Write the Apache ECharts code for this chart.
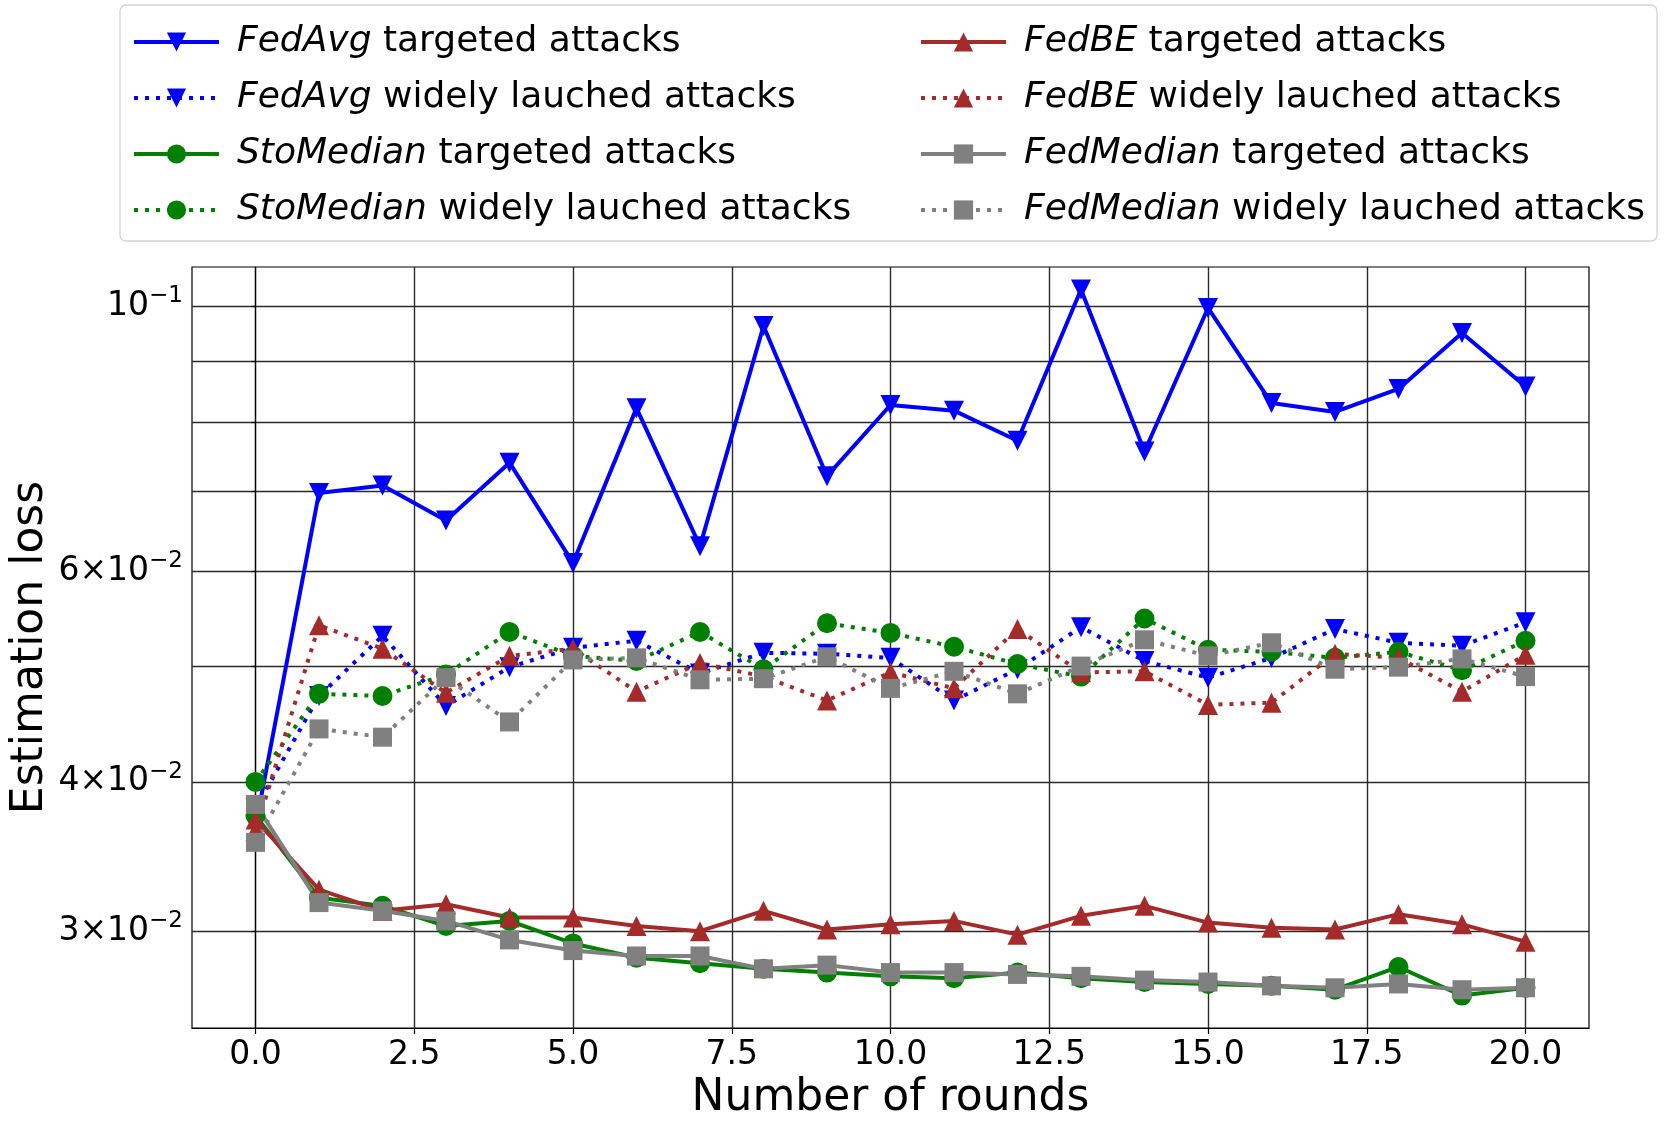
<!DOCTYPE html>
<html>
<head>
<meta charset="utf-8">
<script src="https://cdn.jsdelivr.net/npm/echarts@6.0.0/dist/echarts.min.js"></script>
<style>
  html, body { margin: 0; padding: 0; background: #fff; }
  #chart { width: 1664px; height: 1125px; }
</style>
</head>
<body>
<div id="chart"></div>
<script>
// rounds on the x axis
const rounds = [0, 1, 2, 3, 4, 5, 6, 7, 8, 9, 10, 11, 12, 13, 14, 15, 16, 17, 18, 19, 20];

// estimation loss per round
const fedAvgTargeted = [0.0367, 0.0698, 0.0708, 0.0662, 0.0740, 0.0610, 0.0822, 0.0630, 0.0963, 0.0721, 0.0827,
  0.0818, 0.0772, 0.1033, 0.0756, 0.0997, 0.0830, 0.0816, 0.0853, 0.0950, 0.0857];
const fedAvgWidely = [0.0380, 0.0472, 0.0530, 0.0463, 0.0499, 0.0518, 0.0525, 0.0493, 0.0513, 0.0512, 0.0508,
  0.0468, 0.0497, 0.0539, 0.0505, 0.0489, 0.0508, 0.0537, 0.0523, 0.0520, 0.0544];
const stoMedianTargeted = [0.0375, 0.0320, 0.0315, 0.0303, 0.0306, 0.0293, 0.0285, 0.0282, 0.0279, 0.0277, 0.0275,
  0.0274, 0.0277, 0.0274, 0.0272, 0.0271, 0.0270, 0.0268, 0.0280, 0.0265, 0.0269];
const stoMedianWidely = [0.0400, 0.0474, 0.0472, 0.0492, 0.0534, 0.0510, 0.0505, 0.0534, 0.0497, 0.0543, 0.0533,
  0.0519, 0.0502, 0.0490, 0.0548, 0.0516, 0.0514, 0.0508, 0.0514, 0.0496, 0.0525];
const fedBeTargeted = [0.0372, 0.0325, 0.0312, 0.0316, 0.0308, 0.0308, 0.0303, 0.0300, 0.0312, 0.0301, 0.0304,
  0.0306, 0.0298, 0.0309, 0.0315, 0.0305, 0.0302, 0.0301, 0.0310, 0.0304, 0.0294];
const fedBeWidely = [0.0364, 0.0541, 0.0517, 0.0475, 0.0510, 0.0517, 0.0476, 0.0503, 0.0490, 0.0468, 0.0494,
  0.0479, 0.0537, 0.0494, 0.0495, 0.0464, 0.0466, 0.0512, 0.0508, 0.0476, 0.0511];
const fedMedianTargeted = [0.0383, 0.0317, 0.0312, 0.0306, 0.0295, 0.0289, 0.0286, 0.0286, 0.0279, 0.0281, 0.0277,
  0.0277, 0.0276, 0.0275, 0.0273, 0.0272, 0.0270, 0.0269, 0.0271, 0.0268, 0.0269];
const fedMedianWidely = [0.0356, 0.0443, 0.0436, 0.0489, 0.0449, 0.0506, 0.0508, 0.0487, 0.0488, 0.0509, 0.0479,
  0.0495, 0.0474, 0.0500, 0.0526, 0.0510, 0.0523, 0.0497, 0.0499, 0.0507, 0.0490];

// ticks
const xTicks = [0, 2.5, 5, 7.5, 10, 12.5, 15, 17.5, 20];
const yGridTicks = [0.03, 0.04, 0.05, 0.06, 0.07, 0.08, 0.09, 0.1];
const yLabelTicks = [0.03, 0.04, 0.06, 0.1];

const FONT = 'DejaVu Sans';
const chart = echarts.init(document.getElementById('chart'));

const makeSeries = (name, values, color, symbol, dotted, rotate) => ({
  name,
  type: 'line',
  data: rounds.map((r, i) => [r, values[i]]),
  symbol,
  symbolSize: symbol === 'rect' ? 19 : 20,
  symbolRotate: rotate || 0,
  showAllSymbol: true,
  clip: false,
  lineStyle: { color, width: 4, type: dotted ? [4, 7] : 'solid', cap: 'butt' },
  itemStyle: { color },
  emphasis: { disabled: true },
});

const legendText = (name) => {
  const k = name.indexOf(' ');
  return '{it|' + name.slice(0, k) + '}' + name.slice(k);
};

const legendBase = {
  orient: 'vertical',
  itemWidth: 85,
  itemHeight: 24,
  itemGap: 16,
  padding: 0,
  selectedMode: false,
  formatter: legendText,
  lineStyle: { width: 4 },
  textStyle: {
    fontFamily: FONT, fontSize: 36, color: '#000', lineHeight: 40, padding: [0, 0, 0, 13],
    rich: { it: { fontFamily: FONT, fontSize: 36, fontStyle: 'italic', color: '#000', lineHeight: 40 } },
  },
};

// mathtext-like tick labels: "6×10" plus a raised exponent
const yLabel = (v) => {
  const m = Math.round(v * 100);
  if (m === 10) return '{b|10}{s|\u22121}';
  return '{b|' + m + '\u00d710}{s|\u22122}';
};

const option = {
  backgroundColor: '#fff',
  animation: false,
  textStyle: { fontFamily: FONT },
  graphic: [{
    type: 'rect', z: -10, silent: true,
    shape: { x: 120, y: 5, width: 1537, height: 236, r: 6 },
    style: { fill: '#fff', stroke: '#d4d4d4', lineWidth: 1.3 },
  }],
  legend: [
    Object.assign({}, legendBase, {
      left: 132, top: 22,
      data: ['FedAvg targeted attacks', 'FedAvg widely lauched attacks',
        'StoMedian targeted attacks', 'StoMedian widely lauched attacks'],
    }),
    Object.assign({}, legendBase, {
      left: 919, top: 22,
      data: ['FedBE targeted attacks', 'FedBE widely lauched attacks',
        'FedMedian targeted attacks', 'FedMedian widely lauched attacks'],
    }),
  ],
  grid: {
    left: 192, top: 267, right: 75, bottom: 97,
    outerBoundsMode: 'none', containLabel: false,
    show: true, borderColor: '#000', borderWidth: 1.2,
  },
  xAxis: {
    type: 'value', min: -1, max: 21,
    name: 'Number of rounds', nameLocation: 'middle', nameGap: 38,
    nameTextStyle: { fontFamily: FONT, fontSize: 44, color: '#000' },
    axisLine: { show: true, lineStyle: { color: '#000', width: 1.2 } },
    axisTick: { show: true, customValues: xTicks, length: 6, lineStyle: { color: '#000', width: 1.2 } },
    axisLabel: {
      customValues: xTicks, margin: 11, fontFamily: FONT, fontSize: 33, color: '#000',
      formatter: (v) => v.toFixed(1),
    },
    splitLine: { show: true, lineStyle: { color: '#2b2b2b', width: 1.4 } },
  },
  yAxis: {
    type: 'log', logBase: 10, min: 0.024894, max: 0.10789,
    name: 'Estimation loss', nameLocation: 'middle', nameGap: 139, nameRotate: 90,
    nameMoveOverlap: false,
    nameTextStyle: { fontFamily: FONT, fontSize: 44, color: '#000' },
    axisLine: { show: true, lineStyle: { color: '#000', width: 1.2 } },
    axisTick: { show: true, customValues: yGridTicks, length: 4, lineStyle: { color: '#000', width: 1.2 } },
    axisLabel: {
      customValues: yLabelTicks, margin: 9, color: '#000',
      formatter: yLabel,
      rich: {
        b: { fontFamily: FONT, fontSize: 33, color: '#000' },
        s: { fontFamily: FONT, fontSize: 23, color: '#000', padding: [0, 0, 20, 0] },
      },
    },
    splitLine: { show: true, lineStyle: { color: '#2b2b2b', width: 1.4 } },
    minorTick: { show: false },
    minorSplitLine: { show: false },
  },
  series: [
    makeSeries('FedAvg targeted attacks', fedAvgTargeted, '#0000ff', 'triangle', false, 180),
    makeSeries('FedAvg widely lauched attacks', fedAvgWidely, '#0000ff', 'triangle', true, 180),
    makeSeries('StoMedian targeted attacks', stoMedianTargeted, '#008000', 'circle', false),
    makeSeries('StoMedian widely lauched attacks', stoMedianWidely, '#008000', 'circle', true),
    makeSeries('FedBE targeted attacks', fedBeTargeted, '#a52a2a', 'triangle', false),
    makeSeries('FedBE widely lauched attacks', fedBeWidely, '#a52a2a', 'triangle', true),
    makeSeries('FedMedian targeted attacks', fedMedianTargeted, '#808080', 'rect', false),
    makeSeries('FedMedian widely lauched attacks', fedMedianWidely, '#808080', 'rect', true),
  ],
};

chart.setOption(option);
</script>
</body>
</html>
